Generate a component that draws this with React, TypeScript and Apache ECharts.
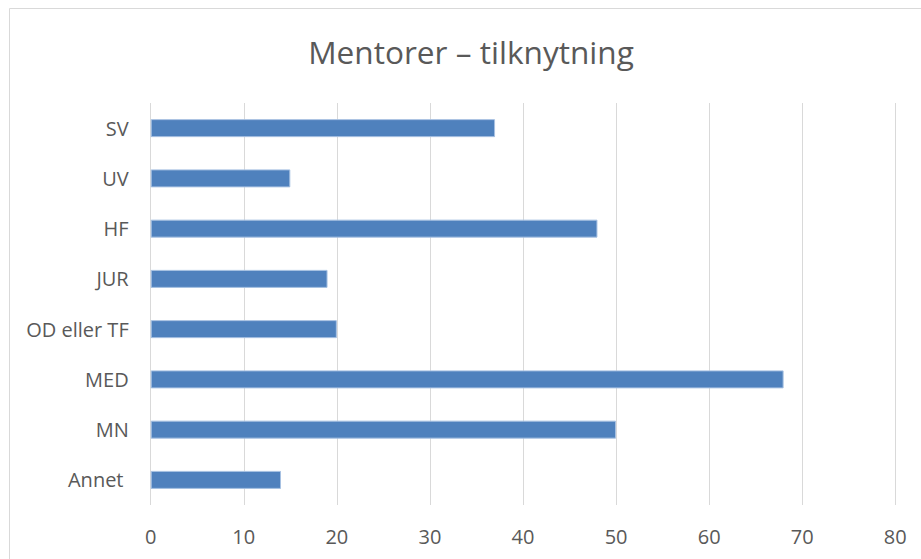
import React, { useEffect, useRef } from "react";
import * as echarts from "echarts";

const categories = ["SV", "UV", "HF", "JUR", "OD eller TF", "MED", "MN", "Annet "];
const values = [37, 15, 48, 19, 20, 68, 50, 14];
const titleText = "Mentorer – tilknytning";
const axisMin = 0;
const axisMax = 80;
const axisInterval = 10;

export default function App() {
  const ref = useRef<HTMLDivElement>(null);
  useEffect(() => {
    if (!ref.current) return;
    const chart = echarts.init(ref.current, undefined, { renderer: "svg" });
    const font = "'Open Sans', sans-serif";
    chart.setOption({
      animation: false,
      backgroundColor: "#ffffff",
      title: {
        text: titleText,
        left: 466,
        top: 30,
        textAlign: "center",
        textStyle: { fontFamily: font, fontSize: 31.6, fontWeight: "normal", color: "#595959" },
      },
      graphic: [
        {
          type: "rect",
          shape: { x: 9.5, y: 8.5, width: 1000, height: 1000 },
          style: { fill: "none", stroke: "#d9d9d9", lineWidth: 1 },
          silent: true,
        },
      ],
      grid: { left: 150.7, right: 25.7, top: 103, bottom: 54, containLabel: false },
      xAxis: {
        type: "value",
        min: axisMin,
        max: axisMax,
        interval: axisInterval,
        axisLine: { show: false },
        axisTick: { show: false },
        splitLine: { show: true, lineStyle: { color: "#d9d9d9", width: 1 } },
        axisLabel: { fontFamily: font, fontSize: 20, color: "#595959", margin: 21 },
      },
      yAxis: {
        type: "category",
        data: categories,
        inverse: true,
        axisLine: { show: false },
        axisTick: { show: false },
        axisLabel: { fontFamily: font, fontSize: 20, color: "#595959", margin: 22 },
      },
      series: [
        {
          type: "bar",
          data: values,
          barWidth: 18,
          itemStyle: { color: "#4f81bd", borderColor: "#a7c1e2", borderWidth: 1 },
          silent: true,
        },
      ],
    });
    return () => chart.dispose();
  }, []);
  return (
    <div
      ref={ref}
      style={{ position: "fixed", left: 0, top: 0, width: 921, height: 559 }}
    />
  );
}
